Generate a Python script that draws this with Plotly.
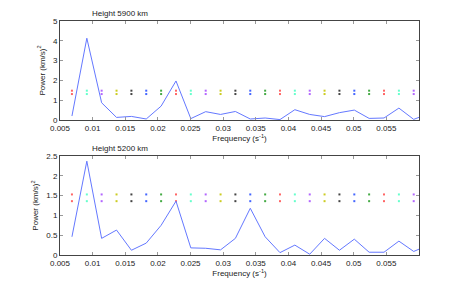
import plotly.graph_objects as go

freq = [0.00683, 0.00911, 0.01138, 0.01366, 0.01594, 0.01821, 0.02049, 0.02277,
        0.02504, 0.02732, 0.02960, 0.03187, 0.03415, 0.03643, 0.03870, 0.04098,
        0.04326, 0.04553, 0.04781, 0.05009, 0.05236, 0.05464, 0.05692, 0.05919, 0.06147]
power_5900 = [0.20, 4.13, 0.87, 0.13, 0.18, 0.05, 0.70, 1.97, 0.07, 0.42, 0.28, 0.43,
              0.05, 0.10, 0.02, 0.52, 0.28, 0.17, 0.37, 0.50, 0.08, 0.10, 0.60, 0.03, 0.32]
power_5200 = [0.46, 2.37, 0.42, 0.63, 0.12, 0.30, 0.75, 1.36, 0.18, 0.17, 0.13, 0.42,
              1.18, 0.46, 0.06, 0.25, 0.02, 0.42, 0.12, 0.40, 0.07, 0.07, 0.35, 0.09, 0.25]
marker_freq = freq[:24]
marker_levels_5900 = [1.31, 1.48]
marker_levels_5200 = [1.36, 1.53]
color_cycle = ["#ff6666", "#66ffcc", "#b366ff", "#cccc22", "#444444", "#4466ff", "#44aa44"]
xtick_vals = [0.005, 0.01, 0.015, 0.02, 0.025, 0.03, 0.035, 0.04, 0.045, 0.05, 0.055]
xtick_text = ["0.005", "0.01", "0.015", "0.02", "0.025", "0.03", "0.035", "0.04", "0.045", "0.05", "0.055"]
ytick_top = [0, 1, 2, 3, 4, 5]
ytick_bot = [0, 0.5, 1, 1.5, 2, 2.5]
titles = ["Height 5900 km", "Height 5200 km"]

FONT = "Liberation Sans, Arial, sans-serif"
fig = go.Figure()

marker_colors = [color_cycle[i % len(color_cycle)] for i in range(len(marker_freq))]

panels = [("x", "y", power_5900, marker_levels_5900), ("x2", "y2", power_5200, marker_levels_5200)]
for xa, ya, pw, levels in panels:
    for lv in levels:
        fig.add_trace(go.Scatter(x=marker_freq, y=[lv] * len(marker_freq), mode="markers",
                                 marker=dict(symbol="square", size=2, color=marker_colors, line=dict(width=0)),
                                 xaxis=xa, yaxis=ya, showlegend=False, hoverinfo="skip"))
    fig.add_trace(go.Scatter(x=freq, y=pw, mode="lines", line=dict(color="#6478ff", width=1),
                             xaxis=xa, yaxis=ya, showlegend=False))

axis_common = dict(showgrid=False, zeroline=False, showline=True, linecolor="#444444", linewidth=1,
                   mirror="allticks", ticks="inside", ticklen=3, tickcolor="#999999",
                   tickfont=dict(family=FONT, size=8, color="#222222"))

fig.update_layout(
    width=463, height=287,
    margin=dict(l=60, r=44, t=21, b=32),
    paper_bgcolor="white", plot_bgcolor="white",
    font=dict(family=FONT, size=8, color="#222222"),
    xaxis=dict(domain=[0, 1], anchor="y", range=[0.005, 0.06], tickvals=xtick_vals, ticktext=xtick_text,
               title=dict(text="Frequency (s<sup>-1</sup>)", font=dict(size=8), standoff=2), **axis_common),
    yaxis=dict(domain=[0.577, 1], anchor="x", range=[0, 5], tickvals=ytick_top,
               title=dict(text="Power (km/s)<sup>2</sup>", font=dict(size=8), standoff=6), **axis_common),
    xaxis2=dict(domain=[0, 1], anchor="y2", range=[0.005, 0.06], tickvals=xtick_vals, ticktext=xtick_text,
                title=dict(text="Frequency (s<sup>-1</sup>)", font=dict(size=8), standoff=2), **axis_common),
    yaxis2=dict(domain=[0, 0.423], anchor="x2", range=[0, 2.5], tickvals=ytick_bot,
                title=dict(text="Power (km/s)<sup>2</sup>", font=dict(size=8), standoff=6), **axis_common),
)

fig.add_annotation(text=titles[0], xref="paper", yref="paper", x=0.168, y=1.0, yshift=1,
                   xanchor="center", yanchor="bottom", showarrow=False, font=dict(size=8))
fig.add_annotation(text=titles[1], xref="paper", yref="paper", x=0.168, y=0.423, yshift=1,
                   xanchor="center", yanchor="bottom", showarrow=False, font=dict(size=8))

fig.write_html("out.html", config={"displayModeBar": False},
               post_script="document.body.style.margin='0';document.body.style.overflow='hidden';")
